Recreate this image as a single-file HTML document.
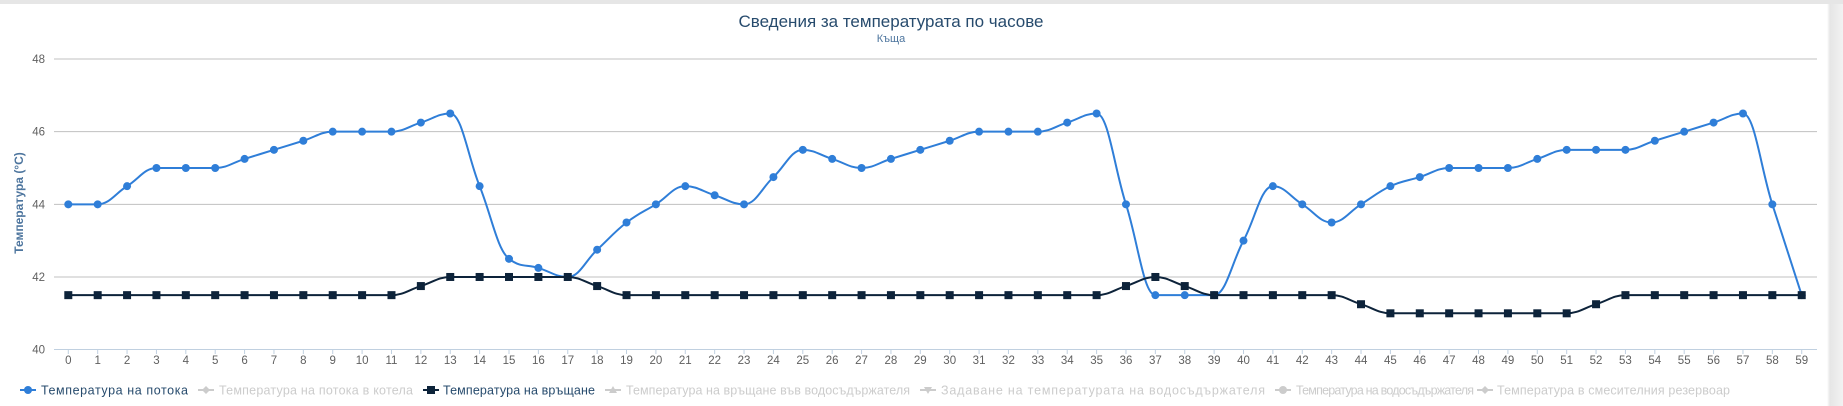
<!DOCTYPE html>
<html><head><meta charset="utf-8"><style>
html,body{margin:0;padding:0;background:#e9e9e9;}
#wrap{position:relative;width:1843px;height:406px;overflow:hidden;background:linear-gradient(to right,#fff 0,#fff 1827px,#e6e6e6 1830px,#f2f2f2 1843px);}
#card{position:absolute;left:0;top:4px;width:1827px;height:402px;background:#fff;border-top-right-radius:6px;}
#top{position:absolute;left:0;top:0;width:1843px;height:4px;background:#e6e6e6;}
svg{position:absolute;left:0;top:0;}
text{font-family:"Liberation Sans","DejaVu Sans",sans-serif;}
</style></head><body><div id="wrap"><div id="top"></div><div id="card"></div>
<svg id="s" width="1843" height="406" xmlns="http://www.w3.org/2000/svg">
<text x="891" y="27" text-anchor="middle" font-size="17" fill="#274b6d">Сведения за температурата по часове</text>
<text x="891" y="42" text-anchor="middle" font-size="11" fill="#4d759e">Къща</text>
<text transform="translate(23,203) rotate(-90)" text-anchor="middle" font-size="12" font-weight="bold" fill="#4d759e">Температура (°C)</text>
<g id="grid"></g><g id="series"></g>
<g font-size="12.5">
<line x1="20" y1="390" x2="36" y2="390" stroke="#2f7ed8" stroke-width="2"/><circle cx="28" cy="390" r="4" fill="#2f7ed8"/>
<text x="41" y="394.5" fill="#274b6d" textLength="147">Температура на потока</text>
<line x1="198" y1="390" x2="214" y2="390" stroke="#ccc" stroke-width="2"/><path d="M206 386 L210 390 206 394 202 390Z" fill="#ccc"/>
<text x="219" y="394.5" fill="#ccc" textLength="194">Температура на потока в котела</text>
<line x1="423" y1="390" x2="439" y2="390" stroke="#0d233a" stroke-width="2"/><rect x="427" y="386" width="8" height="8" fill="#0d233a"/>
<text x="443" y="394.5" fill="#274b6d" textLength="152">Температура на връщане</text>
<line x1="605" y1="390" x2="621" y2="390" stroke="#ccc" stroke-width="2"/><path d="M613 386 L617 393 609 393Z" fill="#ccc"/>
<text x="626" y="394.5" fill="#ccc" textLength="284">Температура на връщане във водосъдържателя</text>
<line x1="920" y1="390" x2="936" y2="390" stroke="#ccc" stroke-width="2"/><path d="M924 387 L932 387 928 394Z" fill="#ccc"/>
<text x="941" y="394.5" fill="#ccc" textLength="324">Задаване на температурата на водосъдържателя</text>
<line x1="1275" y1="390" x2="1291" y2="390" stroke="#ccc" stroke-width="2"/><circle cx="1283" cy="390" r="4" fill="#ccc"/>
<text x="1296" y="394.5" fill="#ccc" textLength="178">Температура на водосъдържателя</text>
<line x1="1477" y1="390" x2="1493" y2="390" stroke="#ccc" stroke-width="2"/><path d="M1485 386 L1489 390 1485 394 1481 390Z" fill="#ccc"/>
<text x="1497" y="394.5" fill="#ccc" textLength="233">Температура в смесителния резервоар</text>
</g>
</svg></div>
<script>
var NS="http://www.w3.org/2000/svg",s=document.getElementById('s');
var g=document.getElementById('grid'),se=document.getElementById('series');
function el(p,t,a){var e=document.createElementNS(NS,t);for(var k in a)e.setAttribute(k,a[k]);p.appendChild(e);return e;}
function X(i){return 68.3+i*29.38;}function Y(v){return 59+(48-v)*36.33;}
for(var v=40;v<=48;v+=2){var y=Y(v);if(v>40)el(g,'line',{x1:54,x2:1817,y1:y,y2:y,stroke:'#c0c0c0','stroke-width':1});
var t=el(g,'text',{x:45,y:y+4,'text-anchor':'end','font-size':'11.5',fill:'#606060'});t.textContent=v;}
el(g,'line',{x1:54,x2:1817,y1:349.5,y2:349.5,stroke:'#c0d0e0','stroke-width':1});
for(var i=0;i<60;i++){el(g,'line',{x1:X(i),x2:X(i),y1:349.5,y2:354,stroke:'#c0d0e0'});
var t=el(g,'text',{x:X(i),y:364,'text-anchor':'middle','font-size':'11.5',fill:'#606060'});t.textContent=i;}
var f=[44,44,44.5,45,45,45,45.25,45.5,45.75,46,46,46,46.25,46.5,44.5,42.5,42.25,42,42.75,43.5,44,44.5,44.25,44,44.75,45.5,45.25,45,45.25,45.5,45.75,46,46,46,46.25,46.5,44,41.5,41.5,41.5,43,44.5,44,43.5,44,44.5,44.75,45,45,45,45.25,45.5,45.5,45.5,45.75,46,46.25,46.5,44,41.5];
var r=[];for(var i=0;i<60;i++)r.push(41.5);r[12]=41.75;for(i=13;i<=17;i++)r[i]=42;r[18]=41.75;r[36]=41.75;r[37]=42;r[38]=41.75;r[44]=41.25;for(i=45;i<=51;i++)r[i]=41;r[52]=41.25;
function spline(d){var P=d.map(function(v,i){return[X(i),Y(v)]});var p='M'+P[0][0]+' '+P[0][1];
for(var i=1;i<P.length;i++){var x=P[i][0],y=P[i][1],l=P[i-1],n=P[i+1];
var lcx,lcy,rcx,rcy;
if(n){lcx=(1.5*x+l[0])/2.5;lcy=(1.5*y+l[1])/2.5;rcx=(1.5*x+n[0])/2.5;rcy=(1.5*y+n[1])/2.5;
var c=((rcy-lcy)*(rcx-x))/(rcx-lcx)+y-rcy;lcy+=c;rcy+=c;
if(lcy>l[1]&&lcy>y){lcy=Math.max(l[1],y);rcy=2*y-lcy;}else if(lcy<l[1]&&lcy<y){lcy=Math.min(l[1],y);rcy=2*y-lcy;}
if(rcy>n[1]&&rcy>y){rcy=Math.max(n[1],y);lcy=2*y-rcy;}else if(rcy<n[1]&&rcy<y){rcy=Math.min(n[1],y);lcy=2*y-rcy;}}
else{lcx=x;lcy=y;}
var a=P[i-1].rc||[l[0],l[1]];
p+=' C'+a[0]+' '+a[1]+' '+lcx+' '+lcy+' '+x+' '+y;P[i].rc=n?[rcx,rcy]:null;}
return p;}
el(se,'path',{d:spline(f),fill:'none',stroke:'#2f7ed8','stroke-width':2});
for(i=0;i<60;i++){el(se,'circle',{cx:X(i),cy:Y(f[i]),r:4,fill:'#2f7ed8'});}
el(se,'path',{d:spline(r),fill:'none',stroke:'#0d233a','stroke-width':2});
for(i=0;i<60;i++){el(se,'rect',{x:X(i)-4,y:Y(r[i])-4,width:8,height:8,fill:'#0d233a'});}
</script></body></html>
